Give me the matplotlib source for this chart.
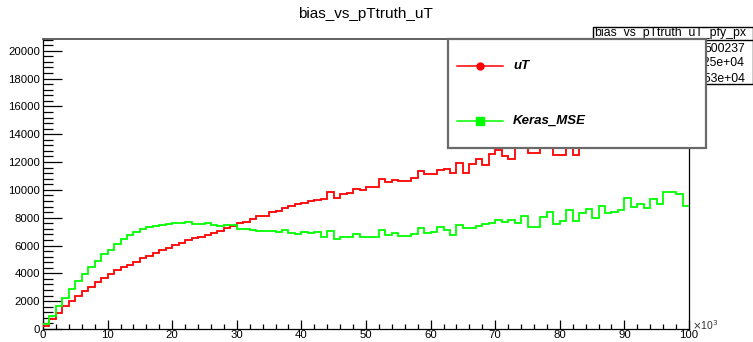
import numpy as np
import matplotlib
matplotlib.use("Agg")
import matplotlib.pyplot as plt
from matplotlib.patches import Rectangle
from matplotlib.lines import Line2D

plt.rcParams['font.family'] = ['Liberation Sans', 'DejaVu Sans']

title = "bias_vs_pTtruth_uT"
stats_name = "bias_vs_pTtruth_uT_pfy_px"
stats_labels = ["Entries", "Mean", "Std Dev"]
stats_values = ["500237", "4.825e+04", "2.553e+04"]
series_names = ["uT", "Keras_MSE"]

# 100 bins, 0..100 (x10^3)
uT = [250, 730, 1140, 1620, 1980, 2340, 2720, 3010, 3370, 3650,
      3920, 4210, 4490, 4610, 4830, 5120, 5260, 5450, 5690, 5840,
      6050, 6200, 6430, 6520, 6620, 6760, 6900, 7060, 7260, 7400,
      7650, 7700, 7940, 8100, 8120, 8410, 8480, 8700, 8810, 8980,
      9050, 9200, 9280, 9340, 9860, 9440, 9680, 9790, 10060, 10000,
      10220, 10220, 10800, 10590, 10680, 10640, 10640, 10860, 11360, 11110,
      11130, 11460, 11530, 11220, 11940, 11220, 11890, 12220, 11790, 12600,
      12850, 12410, 12250, 13300, 13500, 12650, 12650, 13400, 13600, 12540,
      12540, 13300, 12540, 13500, 13700, 13900, 14100, 14300, 14500, 14800,
      15000, 15300, 15500, 15800, 16100, 16400, 16800, 17300, 18200, 19850]

keras = [370, 970, 1620, 2210, 2860, 3440, 3970, 4440, 4900, 5400,
         5690, 6120, 6460, 6740, 6940, 7200, 7320, 7420, 7490, 7540,
         7610, 7610, 7720, 7560, 7560, 7600, 7500, 7370, 7450, 7500,
         7220, 7200, 7130, 7020, 7020, 7040, 7000, 7080, 6900, 6820,
         6960, 6920, 6990, 6610, 7050, 6500, 6630, 6630, 6830, 6610,
         6590, 6600, 7130, 6780, 6900, 6680, 6680, 6850, 7280, 6920,
         6950, 7300, 7130, 6790, 7480, 7260, 7260, 7380, 7530, 7620,
         7860, 7700, 7800, 7620, 8100, 7340, 7340, 8040, 8410, 7570,
         7760, 8540, 7740, 8340, 8630, 7980, 8810, 8340, 8410, 8540,
         9420, 8770, 8960, 8720, 9360, 8960, 9830, 9850, 9680, 8810]

W, H = 753, 342
fig = plt.figure(figsize=(W / 100, H / 100), dpi=100)

def fx(px):
    return px / W

def fy(py):
    return 1 - py / H

L, R, T, B = 43, 689, 39, 329
ax = fig.add_axes([fx(L), fy(B), fx(R) - fx(L), fy(T) - fy(B)])

edges = np.arange(len(uT) + 1)
ax.stairs(uT, edges, color='#ff0000', lw=1.3, baseline=None, zorder=3)
ax.stairs(keras, edges, color='#00ff00', lw=1.3, baseline=None, zorder=4)

ax.set_xlim(0, 100)
ax.set_ylim(0, max(uT) * 1.05)

ax.set_xticks(np.arange(0, 101, 10))
ax.set_xticks(np.arange(0, 101, 2), minor=True)
ax.set_yticks(np.arange(0, 20001, 2000))
ax.set_yticks(np.arange(0, 20801, 400), minor=True)

ax.tick_params(axis='y', which='major', direction='in', length=13.5, width=0.9,
               labelsize=8.2, pad=2, right=False)
ax.tick_params(axis='y', which='minor', direction='in', length=7, width=0.9, right=False)
ax.tick_params(axis='x', which='major', direction='in', length=6.5, width=0.9,
               labelsize=8.2, pad=1, top=False)
ax.tick_params(axis='x', which='minor', direction='in', length=3.6, width=0.9, top=False)

for s in ['left', 'bottom', 'right']:
    ax.spines[s].set_color('black')
    ax.spines[s].set_linewidth(0.9)
ax.spines['top'].set_color('#555555')
ax.spines['top'].set_linewidth(1.3)

fig.text(fx(692), fy(325), r"$\times$10$^{3}$", fontsize=7.5, color='#333333',
         ha='left', va='center')

fig.text(fx(365), fy(14), title, fontsize=11, ha='center', va='center')

# stats box
sb = Rectangle((fx(593), fy(84)), fx(752.5) - fx(593), fy(27) - fy(84),
               transform=fig.transFigure, facecolor='white', edgecolor='black',
               lw=1.0, zorder=10)
fig.add_artist(sb)
fig.add_artist(Line2D([fx(593), fx(753)], [fy(39.5), fy(39.5)],
                      transform=fig.transFigure, color='black', lw=1.0, zorder=11))
fig.text(fx(670), fy(33), stats_name, fontsize=8.8, ha='center', va='center', zorder=12)
for lab, val, py in zip(stats_labels, stats_values, [49, 63, 79]):
    fig.text(fx(598), fy(py), lab, fontsize=8.8, ha='left', va='center', zorder=12)
    fig.text(fx(745), fy(py), val, fontsize=8.8, ha='right', va='center', zorder=12)

# legend box
lb = Rectangle((fx(448), fy(148)), fx(706) - fx(448), fy(39) - fy(148),
               transform=fig.transFigure, facecolor='white', edgecolor='#6a6a6a',
               lw=1.6, zorder=20)
fig.add_artist(lb)
colors = ['#ff0000', '#00ff00']
markers = ['o', 's']
msizes = [5.0, 5.8]
for name, c, m, ms, py in zip(series_names, colors, markers, msizes, [66, 121]):
    fig.add_artist(Line2D([fx(457), fx(503)], [fy(py), fy(py)], transform=fig.transFigure,
                          color=c, lw=1.1, zorder=21))
    fig.add_artist(Line2D([fx(480)], [fy(py)], transform=fig.transFigure,
                          color=c, marker=m, markersize=ms, lw=0, zorder=22))
    fig.text(fx(513), fy(py), name, fontsize=9.5, fontweight='bold', fontstyle='italic',
             ha='left', va='center', zorder=23)

fig.savefig("out.png", dpi=100)
